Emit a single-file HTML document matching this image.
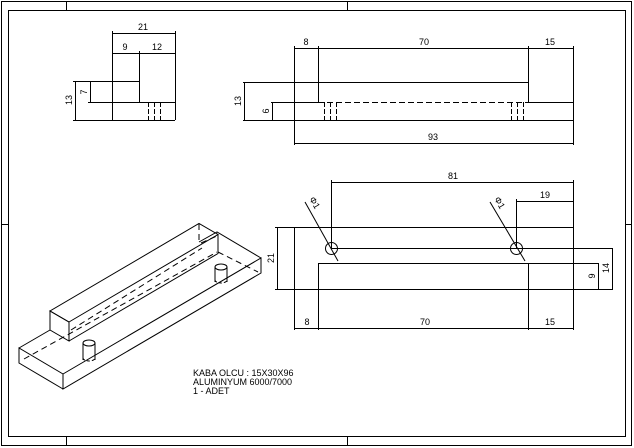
<!DOCTYPE html>
<html><head><meta charset="utf-8"><style>
html,body{margin:0;padding:0;background:#fff;}
svg{display:block;}
text{font-family:"Liberation Sans",sans-serif;font-size:9px;fill:#000;}
</style></head><body>
<svg width="634" height="448" viewBox="0 0 634 448" xmlns="http://www.w3.org/2000/svg">
<g stroke="#000" stroke-width="1" fill="none" shape-rendering="crispEdges">
<!-- frame -->
<rect x="1.5" y="1.5" width="630" height="444"/>
<rect x="8.5" y="10.5" width="617" height="426" stroke-width="1.2"/>
<line x1="66.5" y1="1" x2="66.5" y2="10"/><line x1="347.5" y1="1" x2="347.5" y2="10"/>
<line x1="66.5" y1="437" x2="66.5" y2="446"/><line x1="347.5" y1="437" x2="347.5" y2="446"/>
<line x1="1" y1="224.5" x2="8" y2="224.5"/><line x1="626" y1="224.5" x2="632" y2="224.5"/>

<!-- view 1 -->
<line x1="112" y1="33.5" x2="175" y2="33.5"/>
<line x1="112" y1="53.5" x2="175" y2="53.5"/>
<line x1="112.5" y1="31" x2="112.5" y2="120"/>
<line x1="139.5" y1="51" x2="139.5" y2="102"/>
<line x1="175.5" y1="31" x2="175.5" y2="120"/>
<line x1="73" y1="81.5" x2="139" y2="81.5"/>
<line x1="88" y1="102.5" x2="175" y2="102.5"/>
<line x1="73" y1="120.5" x2="175" y2="120.5"/>
<line x1="75.5" y1="81" x2="75.5" y2="120"/>
<line x1="90.5" y1="81" x2="90.5" y2="102"/>
<g stroke-dasharray="5,2">
<line x1="148.5" y1="102" x2="148.5" y2="120"/>
<line x1="154.5" y1="102" x2="154.5" y2="120"/>
<line x1="160.5" y1="102" x2="160.5" y2="120"/>
</g>

<!-- view 2 -->
<line x1="294" y1="48.5" x2="573" y2="48.5"/>
<line x1="294.5" y1="46" x2="294.5" y2="145"/>
<line x1="318.5" y1="46" x2="318.5" y2="102"/>
<line x1="528.5" y1="46" x2="528.5" y2="102"/>
<line x1="573.5" y1="46" x2="573.5" y2="145"/>
<line x1="243" y1="82.5" x2="528" y2="82.5"/>
<line x1="271" y1="102.5" x2="318" y2="102.5"/>
<line x1="318" y1="102.5" x2="528" y2="102.5" stroke-dasharray="6,3"/>
<line x1="528" y1="102.5" x2="573" y2="102.5"/>
<line x1="243" y1="120.5" x2="573" y2="120.5"/>
<line x1="244.5" y1="82" x2="244.5" y2="120"/>
<line x1="272.5" y1="102" x2="272.5" y2="120"/>
<line x1="294" y1="143.5" x2="573" y2="143.5"/>
<g stroke-dasharray="5,2">
<line x1="324.5" y1="102" x2="324.5" y2="120"/>
<line x1="330.5" y1="102" x2="330.5" y2="120"/>
<line x1="336.5" y1="102" x2="336.5" y2="120"/>
<line x1="511.5" y1="102" x2="511.5" y2="120"/>
<line x1="517.5" y1="102" x2="517.5" y2="120"/>
<line x1="523.5" y1="102" x2="523.5" y2="120"/>
</g>

<!-- view 3 -->
<line x1="331" y1="182.5" x2="573" y2="182.5"/>
<line x1="516" y1="201.5" x2="573" y2="201.5"/>
<line x1="331.5" y1="180" x2="331.5" y2="248"/>
<line x1="516.5" y1="199" x2="516.5" y2="248"/>
<line x1="573.5" y1="180" x2="573.5" y2="330"/>
<line x1="275" y1="227.5" x2="573" y2="227.5"/>
<line x1="331" y1="248.5" x2="613" y2="248.5"/>
<line x1="318" y1="263.5" x2="598" y2="263.5"/>
<line x1="275" y1="289.5" x2="613" y2="289.5"/>
<line x1="294.5" y1="227" x2="294.5" y2="330"/>
<line x1="318.5" y1="263" x2="318.5" y2="330"/>
<line x1="528.5" y1="263" x2="528.5" y2="330"/>
<line x1="277.5" y1="227" x2="277.5" y2="289"/>
<line x1="598.5" y1="263" x2="598.5" y2="289"/>
<line x1="612.5" y1="248" x2="612.5" y2="289"/>
<line x1="294" y1="328.5" x2="573" y2="328.5"/>
</g>
<g stroke="#000" stroke-width="1" fill="none">
<circle cx="331.5" cy="248.5" r="6"/>
<circle cx="516.5" cy="248.5" r="6"/>
<line x1="305" y1="202" x2="338" y2="261"/>
<line x1="490" y1="202" x2="525" y2="261"/>

<!-- isometric -->
<polyline points="63,374 261,258 261,273 63,389 63,374 19,348 19,363 63,389"/>
<line x1="19" y1="348" x2="50" y2="330"/>
<polyline points="199,242 217,232 261,258"/>
<polygon points="69,341 69,322 50,311 50,330"/>
<polygon points="69,322 218,234.5 199,223.5 50,311"/>
<polyline points="218,234.5 218,253.5 69,341"/>
<g stroke-dasharray="6,4">
<line x1="71" y1="330" x2="202" y2="248"/>
<line x1="24" y1="359" x2="217" y2="252"/>
<line x1="218" y1="252" x2="258" y2="272"/>
<line x1="199" y1="224" x2="199" y2="242"/>
<line x1="201" y1="243" x2="217" y2="236"/>
</g>
<ellipse cx="89" cy="343" rx="6" ry="3"/>
<line x1="83" y1="343" x2="83" y2="360"/>
<line x1="95" y1="343" x2="95" y2="360"/>
<path d="M83,358 A6,3 0 0 0 95,358" stroke-dasharray="3,2"/>
<ellipse cx="221" cy="267" rx="6" ry="3"/>
<line x1="215" y1="267" x2="215" y2="282"/>
<line x1="227" y1="267" x2="227" y2="282"/>
<path d="M215,280 A6,3 0 0 0 227,280" stroke-dasharray="3,2"/>
</g>

<!-- texts -->
<g>
<text x="143" y="30" text-anchor="middle">21</text>
<text x="125" y="50" text-anchor="middle">9</text>
<text x="157" y="50" text-anchor="middle">12</text>
<text transform="translate(72,100) rotate(-90)" text-anchor="middle">13</text>
<text transform="translate(87,92) rotate(-90)" text-anchor="middle">7</text>
<text x="306" y="45" text-anchor="middle">8</text>
<text x="424" y="45" text-anchor="middle">70</text>
<text x="550" y="45" text-anchor="middle">15</text>
<text transform="translate(241,101) rotate(-90)" text-anchor="middle">13</text>
<text transform="translate(269,111) rotate(-90)" text-anchor="middle">6</text>
<text x="433" y="140" text-anchor="middle">93</text>
<text x="453" y="179" text-anchor="middle">81</text>
<text x="545" y="198" text-anchor="middle">19</text>
<text transform="translate(274,258) rotate(-90)" text-anchor="middle">21</text>
<text transform="translate(595,276) rotate(-90)" text-anchor="middle">9</text>
<text transform="translate(609,268) rotate(-90)" text-anchor="middle">14</text>
<text x="307" y="325" text-anchor="middle">8</text>
<text x="425" y="325" text-anchor="middle">70</text>
<text x="550" y="325" text-anchor="middle">15</text>
<text transform="translate(309,199) rotate(60)" font-size="8">Φ1</text>
<text transform="translate(494,199) rotate(60)" font-size="8">Φ1</text>
<text x="193" y="376" font-size="8.5">KABA OLCU : 15X30X96</text>
<text x="193" y="385" font-size="8.5">ALUMINYUM 6000/7000</text>
<text x="193" y="394" font-size="8.5">1 - ADET</text>
</g>
</svg>
</body></html>
